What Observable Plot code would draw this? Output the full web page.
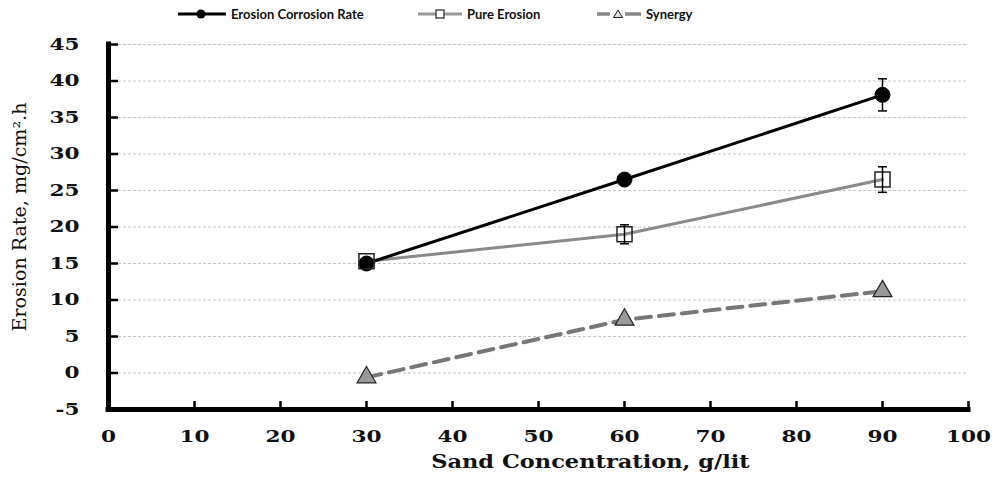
<!DOCTYPE html>
<html><head><meta charset="utf-8">
<script src="https://cdn.jsdelivr.net/npm/d3@7"></script>
<script src="https://cdn.jsdelivr.net/npm/@observablehq/plot@0.6"></script>
<style>
body{margin:0;background:#fff;}
#wrap{position:relative;width:995px;height:480px;overflow:hidden;background:#fff}
#legend{position:relative;height:28px;font-family:Lato,"Open Sans",sans-serif;font-weight:700;font-size:13px;color:#111}
.item{position:absolute;top:0;height:28px;display:flex;align-items:center;white-space:nowrap}
.item svg{margin-right:5px}
</style></head><body>
<div id="wrap"><div id="legend"></div><div id="chart"></div></div>
<script>
// ---- data ----
const concentration = [30, 60, 90];
const erosionCorrosion = [15.0, 26.5, 38.1];
const erosionCorrosionErr = [0.4, 0.6, 2.2];
const pureErosion = [15.3, 19.0, 26.5];
const pureErosionErr = [0.4, 1.3, 1.75];
const synergy = [-0.6, 7.3, 11.2];
const xTicks = [0, 10, 20, 30, 40, 50, 60, 70, 80, 90, 100];
const yTicks = [-5, 0, 5, 10, 15, 20, 25, 30, 35, 40, 45];
const seriesNames = ["Erosion Corrosion Rate", "Pure Erosion", "Synergy"];
const xTitle = "Sand Concentration, g/lit";
const yTitle = "Erosion Rate, mg/cm\u00B2.h";

// ---- tables ----
const ec = concentration.map((x, i) => ({x, y: erosionCorrosion[i], e: erosionCorrosionErr[i]}));
const pe = concentration.map((x, i) => ({x, y: pureErosion[i], e: pureErosionErr[i]}));
const sy = concentration.map((x, i) => ({x, y: synergy[i]}));

const W = 995, H = 452, mL = 108, mR = 27, mT = 16, mB = 71;
const innerW = W - mL - mR, innerH = H - mT - mB;
const serif = "DejaVu Serif";
const cap = {draw(ctx, size) { const w = 4.5; ctx.moveTo(-w, 0); ctx.lineTo(w, 0); }};

const chart = Plot.plot({
  width: W, height: H, marginLeft: mL, marginRight: mR, marginTop: mT, marginBottom: mB,
  x: {domain: [0, 100]},
  y: {domain: [-5, 45]},
  style: {background: "#fff", overflow: "visible"},
  marks: [
    Plot.ruleY(yTicks.filter(v => v > -5), {stroke: "#c4c4c4", strokeWidth: 1, strokeDasharray: "3,2"}),
    Plot.ruleY(yTicks, {stroke: "#000", strokeWidth: 2.5, insetRight: innerW - 10}),
    Plot.ruleX(xTicks.filter(v => v > 0), {stroke: "#000", strokeWidth: 2.5, insetTop: innerH - 8}),
    Plot.ruleX([0], {stroke: "#000", strokeWidth: 5, strokeLinecap: "square"}),
    Plot.ruleY([-5], {stroke: "#000", strokeWidth: 5, strokeLinecap: "square"}),
    Plot.axisX({ticks: xTicks, tickSize: 0, tickPadding: 20, tickFormat: d => String(d), fontSize: 17, fontFamily: serif, fontWeight: "bold", label: null, fill: "#111"}),
    Plot.axisY({ticks: yTicks, tickSize: 0, tickPadding: 29, tickFormat: d => String(d), fontSize: 17, fontFamily: serif, fontWeight: "bold", label: null, fill: "#111"}),
    Plot.text([xTitle], {frameAnchor: "bottom", dx: 52, dy: 58, fontSize: 18, fontFamily: serif, fontWeight: "bold", fill: "#111"}),
    Plot.text([yTitle], {frameAnchor: "left", textAnchor: "middle", rotate: -90, dx: -88, dy: -10, fontSize: 18, fontFamily: serif, fill: "#111"}),
    Plot.line(sy, {x: "x", y: "y", stroke: "#777", strokeWidth: 4, strokeDasharray: "15,8"}),
    Plot.line(pe, {x: "x", y: "y", stroke: "#8a8a8a", strokeWidth: 3}),
    Plot.line(ec, {x: "x", y: "y", stroke: "#000", strokeWidth: 3}),
    Plot.dot(ec, {x: "x", y: "y", r: 7.5, fill: "#000", stroke: "#000", strokeWidth: 1}),
    Plot.dot(pe, {x: "x", y: "y", r: 8.5, symbol: "square", fill: "none", stroke: "#222", strokeWidth: 1.5}),
    Plot.dot(sy, {x: "x", y: "y", r: 7, symbol: "triangle", fill: "#999", stroke: "#222", strokeWidth: 1.2}),
    Plot.ruleX(ec, {x: "x", y1: d => d.y - d.e, y2: d => d.y + d.e, stroke: "#000", strokeWidth: 1.5}),
    Plot.dot(ec, {x: "x", y: d => d.y - d.e, symbol: cap, stroke: "#000", strokeWidth: 1.5}),
    Plot.dot(ec, {x: "x", y: d => d.y + d.e, symbol: cap, stroke: "#000", strokeWidth: 1.5}),
    Plot.ruleX(pe, {x: "x", y1: d => d.y - d.e, y2: d => d.y + d.e, stroke: "#000", strokeWidth: 1.5}),
    Plot.dot(pe, {x: "x", y: d => d.y - d.e, symbol: cap, stroke: "#000", strokeWidth: 1.5}),
    Plot.dot(pe, {x: "x", y: d => d.y + d.e, symbol: cap, stroke: "#000", strokeWidth: 1.5})
  ]
});
document.getElementById("chart").appendChild(chart);

// widen glyphs horizontally (about each text's own anchor) to match the reference's wide type
function stretchEl(t, sx, anchor) {
  const b = t.getBBox();
  const cx = anchor === "end" ? b.x + b.width : b.x + b.width / 2;
  const tr = t.getAttribute("transform") || "";
  t.setAttribute("transform", `${tr} translate(${cx},0) scale(${sx},1) translate(${-cx},0)`);
}
chart.querySelectorAll('g[aria-label="x-axis tick label"] text').forEach(t => stretchEl(t, 1.27, "middle"));
chart.querySelectorAll('g[aria-label="y-axis tick label"] text').forEach(t => stretchEl(t, 1.27, "end"));
chart.querySelectorAll("text").forEach(t => {
  if (t.textContent === xTitle) stretchEl(t, 1.25, "middle");
  else if (t.textContent === yTitle) stretchEl(t, 1.06, "middle");
});

// ---- legend ----
const legend = document.getElementById("legend");
const swatches = [
  {left: 178, w: 48, svg: `<line x1="0" y1="7" x2="48" y2="7" stroke="#000" stroke-width="3"/><circle cx="23" cy="7" r="4.5" fill="#000"/>`},
  {left: 418, w: 44, svg: `<line x1="0" y1="7" x2="44" y2="7" stroke="#999" stroke-width="3"/><rect x="18" y="3" width="8" height="8" fill="#fff" stroke="#222" stroke-width="1.2"/>`},
  {left: 597, w: 44, svg: `<line x1="0" y1="7" x2="13" y2="7" stroke="#888" stroke-width="3.5"/><line x1="28" y1="7" x2="44" y2="7" stroke="#888" stroke-width="3.5"/><path d="M21,3 L25.5,10.5 L16.5,10.5 Z" fill="#ddd" stroke="#222" stroke-width="1"/>`}
];
seriesNames.forEach((name, i) => {
  const s = swatches[i];
  const d = document.createElement("div");
  d.className = "item";
  d.style.left = s.left + "px";
  d.innerHTML = `<svg width="${s.w}" height="14">${s.svg}</svg><span>${name}</span>`;
  legend.appendChild(d);
});
</script>
</body></html>
